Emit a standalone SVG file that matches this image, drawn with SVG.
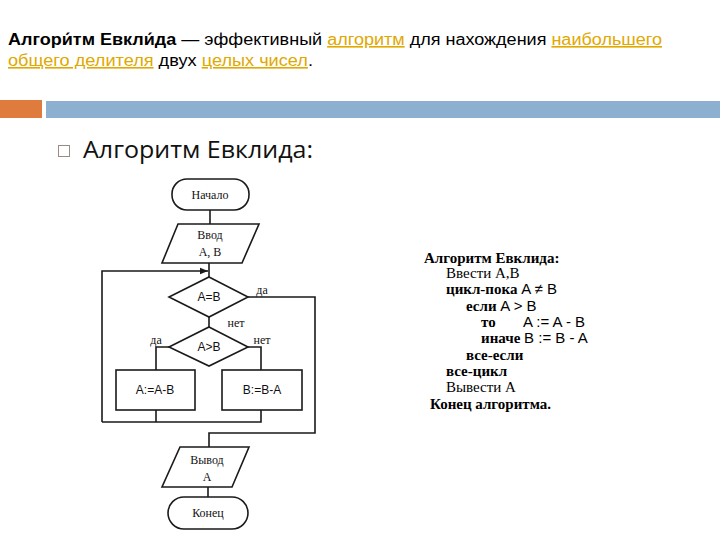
<svg xmlns="http://www.w3.org/2000/svg" width="720" height="540" viewBox="0 0 720 540">
<defs>
<style>
.hdr{font-family:"Liberation Sans",Arial,sans-serif;font-size:16px;fill:#000}
.lnk{fill:#e0a800;text-decoration:underline}
.fc{fill:#fff;stroke:#1a1a1a;stroke-width:1.6}
.ln{fill:none;stroke:#1a1a1a;stroke-width:1.6}
.lbl{font-family:"Liberation Serif","Times New Roman",serif;font-size:12px;fill:#111;text-anchor:middle}
.lbs{font-family:"Liberation Sans",Arial,sans-serif;font-size:12px;fill:#111;text-anchor:middle}
.ps{font-family:"Liberation Serif","Times New Roman",serif;font-size:15px;fill:#000;font-weight:bold}
.pm{font-family:"Liberation Serif","Times New Roman",serif;font-size:15px;fill:#000}
.pr{font-family:"Liberation Sans",Arial,sans-serif;font-size:15px;fill:#000;font-weight:normal}
</style>
<marker id="arr" viewBox="0 0 10 10" refX="10" refY="5" markerWidth="8" markerHeight="8" orient="auto" markerUnits="userSpaceOnUse">
<path d="M0,1 L10,5 L0,9 z" fill="#1a1a1a"/>
</marker>
</defs>
<rect width="720" height="540" fill="#fff"/>

<g id="header">
<text class="hdr" x="8" y="45" textLength="654" lengthAdjust="spacingAndGlyphs"><tspan font-weight="bold">Алгори́тм Евкли́да</tspan> — эффективный <tspan class="lnk">алгоритм</tspan> для нахождения <tspan class="lnk">наибольшего</tspan></text>
<text class="hdr" x="8" y="66" textLength="305" lengthAdjust="spacingAndGlyphs"><tspan class="lnk">общего делителя</tspan> двух <tspan class="lnk">целых чисел</tspan>.</text>
</g>

<g id="bars">
<rect x="0" y="100" width="42" height="18" fill="#e07b3e"/>
<rect x="46" y="101" width="674" height="17" fill="#8db0d1"/>
</g>

<g id="bullet">
<rect x="58.5" y="145.5" width="11" height="11" fill="none" stroke="#9a8a80" stroke-width="1"/>
<text x="83" y="158" font-family="'Open Sans','Liberation Sans',sans-serif" font-size="24" fill="#111" textLength="230" lengthAdjust="spacingAndGlyphs">Алгоритм Евклида:</text>
</g>

<g id="connectors">
<line class="ln" x1="210" y1="210" x2="210" y2="224"/>
<line class="ln" x1="209" y1="263" x2="209" y2="277"/>
<polyline class="ln" points="102,422 102,271 208,271" marker-end="url(#arr)"/>
<polyline class="ln" points="248,297 315,297 315,433 209,433 209,447"/>
<line class="ln" x1="209" y1="317" x2="209" y2="327"/>
<polyline class="ln" points="169,347 156,347 156,370"/>
<polyline class="ln" points="248,347 261,347 261,370"/>
<polyline class="ln" points="156,410 156,422"/>
<polyline class="ln" points="261,410 261,422 102,422"/>
<line class="ln" x1="208" y1="487" x2="208" y2="497"/>
<text class="lbl" x="262" y="294">да</text>
<text class="lbl" x="236" y="327">нет</text>
<text class="lbl" x="156" y="344">да</text>
<text class="lbl" x="262" y="344">нет</text>
</g>

<g id="start">
<rect class="fc" x="172" y="179" width="77" height="31" rx="15"/>
<text class="lbl" x="210" y="199">Начало</text>
</g>

<g id="input">
<polygon class="fc" points="178,224 259,224 242,263 162,263"/>
<text class="lbl" x="210" y="239">Ввод</text>
<text class="lbl" x="210" y="256">A, B</text>
</g>

<g id="cond1">
<polygon class="fc" points="209,277 248,297 209,317 169,297"/>
<text class="lbs" x="209" y="301">A=B</text>
</g>

<g id="cond2">
<polygon class="fc" points="209,327 248,347 209,366 169,347"/>
<text class="lbs" x="209" y="351">A&gt;B</text>
</g>

<g id="stepA">
<rect class="fc" x="116" y="370" width="79" height="40"/>
<text class="lbs" x="155" y="394">A:=A-B</text>
</g>

<g id="stepB">
<rect class="fc" x="222" y="370" width="80" height="40"/>
<text class="lbs" x="262" y="394">B:=B-A</text>
</g>

<g id="output">
<polygon class="fc" points="180,447 249,447 232,487 162,487"/>
<text class="lbl" x="207" y="464">Вывод</text>
<text class="lbl" x="207" y="481">A</text>
</g>

<g id="end">
<rect class="fc" x="168" y="497" width="80" height="32" rx="16"/>
<text class="lbl" x="208" y="517">Конец</text>
</g>

<g id="pseudocode">
<text class="ps" x="424" y="263">Алгоритм Евклида:</text>
<text class="pm" x="446" y="278">Ввести A,B</text>
<text class="ps" x="446" y="294">цикл-пока <tspan class="pr">A ≠ B</tspan></text>
<text class="ps" x="466" y="311">если <tspan class="pr">A &gt; B</tspan></text>
<text class="ps" x="481" y="327">то</text>
<text class="pr" x="523" y="327">A := A - B</text>
<text class="ps" x="481" y="343">иначе <tspan class="pr">B := B - A</tspan></text>
<text class="ps" x="466" y="360">все-если</text>
<text class="ps" x="446" y="376">все-цикл</text>
<text class="pm" x="446" y="392">Вывести A</text>
<text class="ps" x="430" y="409">Конец алгоритма.</text>
</g>
</svg>
